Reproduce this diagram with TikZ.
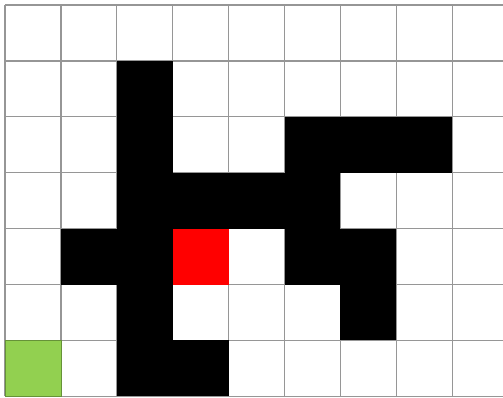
\documentclass[tikz,border=0pt]{standalone}
\definecolor{gridgray}{RGB}{150,150,150}
\definecolor{startgreen}{RGB}{146,208,80}
\begin{document}
\begin{tikzpicture}[x=1pt,y=-1pt,
  gridline/.style={draw=gridgray,line width=1.3pt},
  wall/.style={fill=black},
  goal/.style={fill=red},
  start/.style={fill=startgreen,draw=startgreen!70!black,line width=0.8pt}]
\useasboundingbox (0,0) rectangle (503,397);
\fill[white] (0,0) rectangle (503,397);
\def\cs{55.9}
% grid lines
\foreach \r in {0,...,7} \draw[gridline] (5,5+\r*\cs) -- (503,5+\r*\cs);
\foreach \c in {0,...,8} \draw[gridline] (5+\c*\cs,5) -- (5+\c*\cs,5+7*\cs);
% cells: (col,row)
\foreach \c/\r in {2/1, 2/2,5/2,6/2,7/2, 2/3,3/3,4/3,5/3, 1/4,2/4,5/4,6/4, 2/5,6/5, 2/6,3/6}
  \fill[wall] (5+\c*\cs,5+\r*\cs) rectangle (5+\c*\cs+\cs,5+\r*\cs+\cs);
\fill[goal] (5+3*\cs,5+4*\cs) rectangle (5+4*\cs,5+5*\cs);
\path[start] (5,5+6*\cs) rectangle (5+\cs,5+7*\cs);
\end{tikzpicture}
\end{document}
